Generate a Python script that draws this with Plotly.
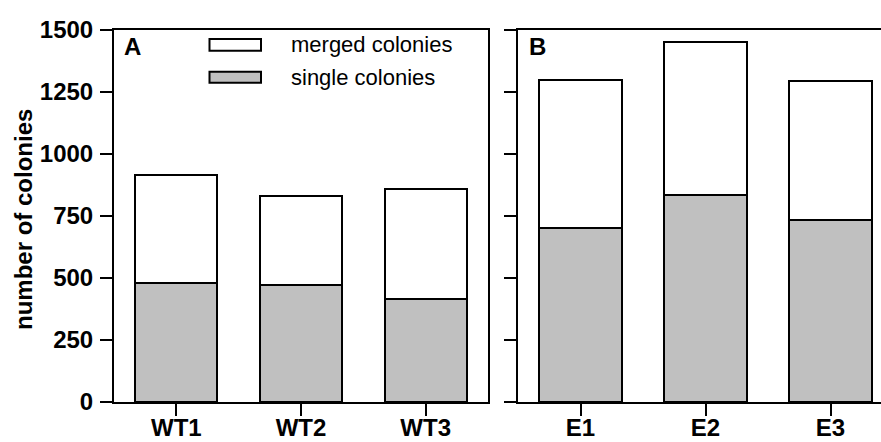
import plotly.graph_objects as go

# Colony counts per plate (stacked: single colonies at the bottom, merged on top)
wt_labels = ["WT1", "WT2", "WT3"]
wt_single = [479, 470, 416]
wt_merged = [436, 362, 443]

e_labels = ["E1", "E2", "E3"]
e_single = [700, 833, 734]
e_merged = [597, 618, 559]

y_ticks = [0, 250, 500, 750, 1000, 1250, 1500]

W, H = 881, 442
ML, MR, MT, MB = 114, 0, 30, 40
PW, PH = W - ML - MR, H - MT - MB


def px_x(x):
    return (x - ML) / PW


def px_y(y):
    return (H - MB - y) / PH


FONT = "Arial, Liberation Sans, sans-serif"
GRAY = "#c0c0c0"
outline = dict(color="black", width=2)
BAR_W = 0.66

fig = go.Figure()
for labels, single, merged, xa, ya in [
    (wt_labels, wt_single, wt_merged, "x", "y"),
    (e_labels, e_single, e_merged, "x2", "y2"),
]:
    fig.add_bar(x=labels, y=single, xaxis=xa, yaxis=ya, width=BAR_W,
                marker=dict(color=GRAY, line=outline), name="single colonies",
                showlegend=False)
    fig.add_bar(x=labels, y=merged, xaxis=xa, yaxis=ya, width=BAR_W,
                marker=dict(color="white", line=outline), name="merged colonies",
                showlegend=False)

bold = dict(family=FONT, size=24, color="black", weight="bold")

axis_common = dict(showline=True, linewidth=2, linecolor="black",
                   ticks="outside", ticklen=12, tickwidth=2, tickcolor="black",
                   showgrid=False, zeroline=False, tickfont=bold, automargin=False)

fig.update_layout(
    template="none",
    width=W, height=H,
    margin=dict(l=ML, r=MR, t=MT, b=MB, autoexpand=False),
    plot_bgcolor="white", paper_bgcolor="white",
    barmode="stack", bargap=0,
    xaxis=dict(domain=[0, px_x(488)], range=[-0.5, 2.5], mirror=True,
               anchor="y", ticklabelstandoff=-9, **axis_common),
    yaxis=dict(domain=[0, 1], range=[0, 1500], tickvals=y_ticks, mirror=True,
               anchor="x", ticklabelstandoff=2, **axis_common),
    xaxis2=dict(domain=[px_x(518), 1], range=[-0.5, 2.404], mirror=True,
                anchor="y2", ticklabelstandoff=-9, **axis_common),
    yaxis2=dict(domain=[0, 1], range=[0, 1500], tickvals=y_ticks, mirror=False,
                anchor="x2", showticklabels=False, **axis_common),
)

# y-axis title
fig.add_annotation(text="number of colonies", textangle=-90, xref="paper", yref="paper",
                   x=px_x(23), y=px_y(220), xanchor="center", yanchor="middle",
                   showarrow=False, font=dict(family=FONT, size=24, color="black",
                                              weight="bold"))

# panel letters
for letter, xpos in [("A", 122), ("B", 527)]:
    fig.add_annotation(text=letter, xref="paper", yref="paper", x=px_x(xpos),
                       y=px_y(47), xanchor="left", yanchor="middle", showarrow=False,
                       font=dict(family=FONT, size=24, color="black", weight="bold"))

# legend drawn as swatches with labels
for (top, bottom), fill, label in [((39, 50.7), "white", "merged colonies"),
                                   ((71.7, 82.7), GRAY, "single colonies")]:
    fig.add_shape(type="rect", xref="paper", yref="paper",
                  x0=px_x(209.5), x1=px_x(261), y0=px_y(bottom), y1=px_y(top),
                  fillcolor=fill, line=dict(color="black", width=2))
    fig.add_annotation(text=label, xref="paper", yref="paper", x=px_x(289),
                       y=px_y((top + bottom) / 2), xanchor="left", yanchor="middle",
                       showarrow=False, font=dict(family=FONT, size=22, color="black"))

fig.write_html("out.html")
